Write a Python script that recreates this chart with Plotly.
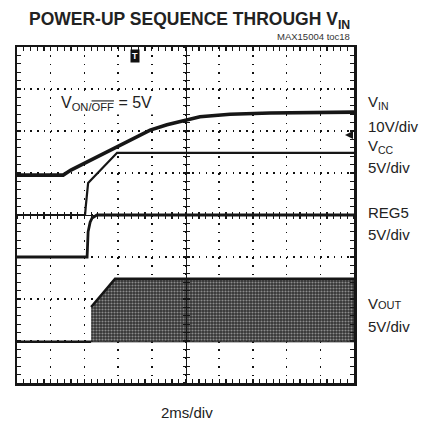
import plotly.graph_objects as go

# ---- data (in scope divisions: x 0..10 (2ms/div), y 0..8) ----
vin_t = [0, 1.37, 1.6, 2.02, 2.46, 2.97, 3.44, 3.95, 4.45, 4.99, 5.43, 6.32, 7.51, 10]
vin_div = [4.95, 4.95, 5.07, 5.24, 5.43, 5.62, 5.83, 6.02, 6.15, 6.26, 6.34, 6.40, 6.43, 6.45]

vcc_t = [0, 2.02, 2.04, 2.07, 2.11, 2.97, 10]
vcc_div = [4.0, 4.0, 4.2, 4.55, 4.76, 5.48, 5.48]

reg5_t = [0, 2.08, 2.11, 2.17, 2.23, 2.37, 10]
reg5_div = [3.0, 3.0, 3.6, 3.83, 3.93, 4.0, 4.0]

vout_base_t = [0, 2.2]
vout_base_div = [0.98, 0.98]
vout_env_t = [2.2, 2.91, 10]
vout_env_top = [1.81, 2.48, 2.48]
vout_env_bot = [0.98, 0.98, 0.98]

channel_labels = ["V<sub>IN</sub>", "10V/div", "V<sub>CC</sub>", "5V/div",
                  "REG5", "5V/div", "V<span style='font-size:11px'>OUT</span>", "5V/div"]

INK = "#161616"
FONT = "Liberation Sans, Arial, sans-serif"

fig = go.Figure()

# VOUT switching envelope
fig.add_trace(go.Scatter(
    x=vout_env_t + vout_env_t[::-1], y=vout_env_top + vout_env_bot[::-1],
    mode="lines", fill="toself", line=dict(color="#2a2a2a", width=1),
    fillcolor="#333333",
    fillpattern=dict(shape=".", bgcolor="#333333", fgcolor="#e6e6e6", size=3, solidity=0.4),
    hoverinfo="skip", showlegend=False))
fig.add_trace(go.Scatter(x=vout_env_t, y=vout_env_top, mode="lines",
                         line=dict(color=INK, width=2.5), showlegend=False, hoverinfo="skip"))
fig.add_trace(go.Scatter(x=vout_base_t, y=vout_base_div, mode="lines",
                         line=dict(color=INK, width=2.5), showlegend=False, hoverinfo="skip"))
# REG5
fig.add_trace(go.Scatter(x=reg5_t, y=reg5_div, mode="lines",
                         line=dict(color=INK, width=2.8), showlegend=False, hoverinfo="skip"))
# VCC
fig.add_trace(go.Scatter(x=vcc_t, y=vcc_div, mode="lines",
                         line=dict(color=INK, width=2.2), showlegend=False, hoverinfo="skip"))
# VIN
fig.add_trace(go.Scatter(x=vin_t, y=vin_div, mode="lines",
                         line=dict(color=INK, width=3.6), showlegend=False, hoverinfo="skip"))

# dummy traces so center-line axes render
fig.add_trace(go.Scatter(x=[], y=[], xaxis="x2", yaxis="y2", showlegend=False, hoverinfo="skip"))
fig.add_trace(go.Scatter(x=[], y=[], xaxis="x3", yaxis="y3", showlegend=False, hoverinfo="skip"))

frame = dict(showline=True, linewidth=2.5, linecolor=INK, mirror="ticks",
             ticks="inside", ticklen=4, tickwidth=1.2, tickcolor=INK,
             showticklabels=False, zeroline=False, fixedrange=True,
             showgrid=True, gridcolor="#111111", gridwidth=1.5)

fig.update_layout(
    width=434, height=423,
    margin=dict(l=17, r=80, t=47, b=40),
    paper_bgcolor="white", plot_bgcolor="white",
    font=dict(family=FONT, color=INK),
    xaxis=dict(range=[0, 10], dtick=1, griddash="1.5px,6.9px",
               minor=dict(dtick=0.2, ticks="inside", ticklen=4, tickwidth=1.2,
                          tickcolor=INK, showgrid=False),
               **frame),
    yaxis=dict(range=[0, 8], dtick=1, griddash="1.5px,5.24px",
               minor=dict(dtick=0.2, ticks="inside", ticklen=4, tickwidth=1.2,
                          tickcolor=INK, showgrid=False),
               **frame),
)
center = dict(showline=True, linewidth=1.2, linecolor=INK, ticklen=3, tickwidth=1.2,
              tickcolor=INK, dtick=0.2, showgrid=False, showticklabels=False,
              zeroline=False, anchor="free", position=0.5, fixedrange=True)
fig.update_layout(
    xaxis2=dict(overlaying="x", range=[0, 10], ticks="outside", **center),
    xaxis3=dict(overlaying="x", range=[0, 10], ticks="inside", **center),
    yaxis2=dict(overlaying="y", range=[0, 8], ticks="outside", **center),
    yaxis3=dict(overlaying="y", range=[0, 8], ticks="inside", **center),
)

# title and texts (pixel positions converted to paper coords)
L, T, PW, PH = 17, 47, 337, 336
def px(xp): return (xp - L) / PW
def py(yp): return (T + PH - yp) / PH

fig.add_annotation(x=px(189.5), y=py(20), xref="paper", yref="paper", showarrow=False,
                   text="<b>POWER-UP SEQUENCE THROUGH V<sub>IN</sub></b>",
                   font=dict(size=17.5, family=FONT, color="#222"), xanchor="center", yanchor="middle")
fig.add_annotation(x=px(352), y=py(36.5), xref="paper", yref="paper", showarrow=False,
                   text="MAX15004 toc18", font=dict(size=9.5, family=FONT, color="#333"),
                   xanchor="right", yanchor="middle")
fig.add_annotation(x=px(59), y=py(104), xref="paper", yref="paper", showarrow=False,
                   text="V<sub>ON/<span style='text-decoration:overline'>OFF</span></sub> = 5V",
                   font=dict(size=16, family=FONT, color="#222"), bgcolor="white",
                   xanchor="left", yanchor="middle", borderpad=1)
label_y = [102, 126, 146, 167.5, 212.5, 234, 303.5, 326]
for lab, yy in zip(channel_labels, label_y):
    fig.add_annotation(x=px(366), y=py(yy), xref="paper", yref="paper", showarrow=False,
                       text=lab, font=dict(size=15, family=FONT, color="#222"),
                       xanchor="left", yanchor="middle")
fig.add_annotation(x=px(186.5), y=py(412), xref="paper", yref="paper", showarrow=False,
                   text="2ms/div", font=dict(size=15, family=FONT, color="#222"),
                   xanchor="center", yanchor="middle")
# trigger marker
fig.add_annotation(x=px(134.5), y=py(55.5), xref="paper", yref="paper", showarrow=False,
                   text="<b>T</b>", font=dict(size=9, family=FONT, color="white"),
                   bgcolor="#111", borderpad=1, xanchor="center", yanchor="middle")
# level arrow at right edge
fig.add_annotation(x=px(345), y=py(135), xref="paper", yref="paper", showarrow=True,
                   ax=8, ay=0, text="", arrowhead=2, arrowsize=0.8, arrowwidth=2, arrowcolor=INK)

fig.write_html("out.html", config={"displayModeBar": False, "staticPlot": True},
               post_script="document.body.style.margin='0';document.body.style.overflow='hidden';")
